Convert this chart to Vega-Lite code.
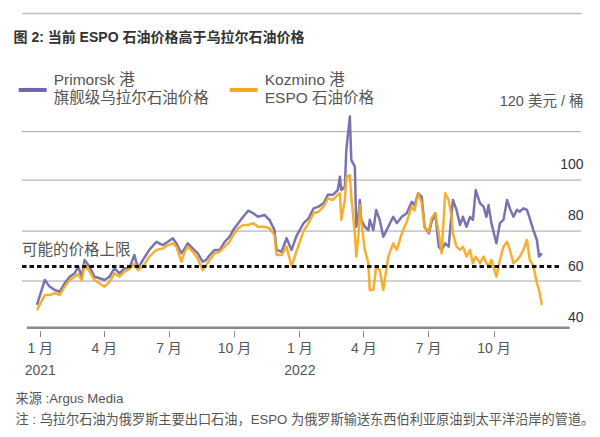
{
  "$schema": "https://vega.github.io/schema/vega-lite/v6.json",
  "width": 559,
  "height": 232,
  "autosize": {"type": "none"},
  "padding": {"left": 22, "top": 95.7, "right": 19, "bottom": 109.3},
  "resolve": {"axis": {"x": "independent"}},
  "layer": [
    {
      "data": {"values": [{"g": 54.3}, {"g": 73.9}, {"g": 93.9}, {"g": 112.9}]},
      "mark": {"type": "rule", "color": "#a3a3a3", "strokeWidth": 1},
      "encoding": {
        "y": {"field": "g", "type": "quantitative", "scale": {"domain": [36, 127], "nice": false, "zero": false},
          "axis": {
            "orient": "right", "values": [40, 60, 80, 100], "domain": false, "ticks": false, "tickSize": 0, "grid": false,
            "labelAlign": "right", "labelBaseline": "middle", "labelPadding": 2, "labelFontSize": 14, "labelColor": "#333333",
            "title": "120 美元 / 桶", "titleAngle": 0, "titleAlign": "right", "titleBaseline": "middle", "titleX": 2, "titleY": 6,
            "titleFontSize": 14.5, "titleFontWeight": "normal", "titleColor": "#555555"
          }}
      }
    },
    {
      "data": {"values": [{}]},
      "mark": {"type": "rule", "color": "#8a8a8a", "strokeWidth": 2.5},
      "encoding": {
        "x": {"datum": {"year": 2020, "month": 12, "date": 14, "utc": true}, "type": "temporal", "scale": {"type": "utc"},
          "axis": {"orient": "top", "offset": 82.7, "domain": true, "domainColor": "#bdbdbd", "domainWidth": 1.5, "ticks": false, "labels": false, "grid": false,
            "title": "图 2: 当前 ESPO 石油价格高于乌拉尔石油价格",
            "titleAngle": 0, "titleAnchor": "start", "titleAlign": "left", "titleBaseline": "middle", "titleX": -9, "titleY": 24,
            "titleFontSize": 14, "titleFontWeight": "bold", "titleColor": "#333333"}},
        "x2": {"datum": {"year": 2023, "month": 1, "date": 16, "utc": true}},
        "y": {"datum": 36, "type": "quantitative",
          "axis": {
            "orient": "right", "values": [40, 60, 80, 100], "domain": false, "ticks": false, "tickSize": 0, "grid": false,
            "labelAlign": "right", "labelBaseline": "middle", "labelPadding": 2, "labelFontSize": 14, "labelColor": "#333333",
            "title": "120 美元 / 桶", "titleAngle": 0, "titleAlign": "right", "titleBaseline": "middle", "titleX": 2, "titleY": 6,
            "titleFontSize": 14.5, "titleFontWeight": "normal", "titleColor": "#555555"
          }}
      }
    },
    {
      "data": {"values": [
        {"d":"2020-12-28","p":45.0,"k":42.9},{"d":"2021-01-08","p":54.7,"k":48.8},{"d":"2021-01-15","p":52.1,"k":48.8},{"d":"2021-01-22","p":50.8,"k":49.5},{"d":"2021-01-29","p":50.1,"k":48.8},
        {"d":"2021-02-05","p":53.4,"k":52.1},{"d":"2021-02-12","p":56.0,"k":54.7},{"d":"2021-02-19","p":57.3,"k":56.0},{"d":"2021-02-24","p":59.9,"k":57.0},{"d":"2021-03-01","p":56.0,"k":54.7},
        {"d":"2021-03-05","p":62.6,"k":60.6},{"d":"2021-03-12","p":59.9,"k":58.0},{"d":"2021-03-19","p":56.0,"k":54.7},{"d":"2021-03-26","p":55.4,"k":53.4},{"d":"2021-04-02","p":54.7,"k":52.1},
        {"d":"2021-04-09","p":56.0,"k":54.0},{"d":"2021-04-16","p":59.3,"k":57.3},{"d":"2021-04-23","p":57.3,"k":56.0},{"d":"2021-04-30","p":59.3,"k":58.0},{"d":"2021-05-07","p":59.3,"k":59.0},
        {"d":"2021-05-14","p":64.5,"k":61.0},{"d":"2021-05-19","p":59.3,"k":58.6},{"d":"2021-05-26","p":62.6,"k":59.9},{"d":"2021-06-04","p":66.5,"k":63.9},{"d":"2021-06-14","p":69.7,"k":66.5},
        {"d":"2021-06-23","p":68.4,"k":67.1},{"d":"2021-06-30","p":69.7,"k":68.4},{"d":"2021-07-07","p":71.1,"k":69.1},{"d":"2021-07-12","p":69.1,"k":67.8},{"d":"2021-07-19","p":65.2,"k":61.9},
        {"d":"2021-07-24","p":67.1,"k":65.8},{"d":"2021-07-28","p":69.1,"k":67.8},{"d":"2021-08-04","p":67.1,"k":65.8},{"d":"2021-08-11","p":65.2,"k":63.2},{"d":"2021-08-18","p":61.9,"k":58.6},
        {"d":"2021-08-23","p":62.6,"k":60.6},{"d":"2021-08-28","p":64.5,"k":62.6},{"d":"2021-09-04","p":66.5,"k":65.2},{"d":"2021-09-11","p":66.5,"k":65.8},{"d":"2021-09-18","p":69.7,"k":67.8},
        {"d":"2021-09-25","p":71.7,"k":69.7},{"d":"2021-09-30","p":74.3,"k":72.4},{"d":"2021-10-07","p":77.0,"k":75.0},{"d":"2021-10-14","p":79.5,"k":76.3},{"d":"2021-10-21","p":81.9,"k":76.3},
        {"d":"2021-10-28","p":80.9,"k":77.0},{"d":"2021-11-04","p":79.5,"k":75.6},{"d":"2021-11-13","p":80.2,"k":75.6},{"d":"2021-11-20","p":78.3,"k":75.0},{"d":"2021-11-27","p":74.3,"k":72.4},
        {"d":"2021-11-30","p":66.5,"k":64.5},{"d":"2021-12-07","p":65.8,"k":64.5},{"d":"2021-12-14","p":71.1,"k":67.8},{"d":"2021-12-21","p":66.5,"k":60.0},{"d":"2021-12-28","p":72.0,"k":66.0},
        {"d":"2022-01-07","p":77.0,"k":74.0},{"d":"2022-01-14","p":78.9,"k":77.0},{"d":"2022-01-21","p":82.8,"k":80.9},{"d":"2022-01-28","p":83.5,"k":81.5},{"d":"2022-02-04","p":84.8,"k":83.5},
        {"d":"2022-02-10","p":88.1,"k":86.8},{"d":"2022-02-17","p":88.1,"k":86.1},{"d":"2022-02-24","p":90.0,"k":88.1},{"d":"2022-02-27","p":95.2,"k":88.7},{"d":"2022-03-01","p":90.0,"k":78.3},
        {"d":"2022-03-06","p":91.3,"k":86.1},{"d":"2022-03-08","p":105.7,"k":95.2},{"d":"2022-03-13","p":118.8,"k":95.8},{"d":"2022-03-15","p":101.8,"k":87.4},{"d":"2022-03-20","p":99.2,"k":73.0},
        {"d":"2022-03-22","p":75.6,"k":63.9},{"d":"2022-03-25","p":79.5,"k":72.0},{"d":"2022-03-27","p":86.1,"k":84.0},{"d":"2022-03-29","p":78.3,"k":78.0},{"d":"2022-04-03","p":75.6,"k":66.5},
        {"d":"2022-04-08","p":74.3,"k":61.3},{"d":"2022-04-10","p":78.3,"k":50.8},{"d":"2022-04-15","p":74.3,"k":50.8},{"d":"2022-04-19","p":82.2,"k":59.9},{"d":"2022-04-24","p":78.3,"k":58.6},
        {"d":"2022-04-29","p":71.7,"k":50.8},{"d":"2022-05-06","p":75.6,"k":63.9},{"d":"2022-05-13","p":79.5,"k":69.1},{"d":"2022-05-18","p":77.0,"k":66.5},{"d":"2022-05-25","p":79.5,"k":73.0},
        {"d":"2022-06-01","p":80.9,"k":77.6},{"d":"2022-06-08","p":85.4,"k":83.5},{"d":"2022-06-12","p":84.1,"k":82.0},{"d":"2022-06-17","p":88.7,"k":88.7},{"d":"2022-06-22","p":87.4,"k":85.0},
        {"d":"2022-06-26","p":75.6,"k":75.6},{"d":"2022-07-02","p":73.0,"k":73.5},{"d":"2022-07-06","p":77.6,"k":79.0},{"d":"2022-07-11","p":80.9,"k":80.9},{"d":"2022-07-16","p":67.8,"k":73.0},
        {"d":"2022-07-20","p":66.5,"k":65.2},{"d":"2022-07-25","p":69.1,"k":88.7},{"d":"2022-07-30","p":67.8,"k":86.1},{"d":"2022-08-03","p":80.9,"k":79.5},{"d":"2022-08-05","p":86.1,"k":73.0},
        {"d":"2022-08-10","p":82.2,"k":67.8},{"d":"2022-08-15","p":76.3,"k":66.5},{"d":"2022-08-19","p":79.5,"k":67.8},{"d":"2022-08-24","p":75.6,"k":63.9},{"d":"2022-08-29","p":79.5,"k":66.5},
        {"d":"2022-09-02","p":78.3,"k":61.3},{"d":"2022-09-06","p":90.0,"k":63.9},{"d":"2022-09-12","p":84.8,"k":61.3},{"d":"2022-09-17","p":83.5,"k":63.9},{"d":"2022-09-21","p":79.5,"k":61.3},
        {"d":"2022-09-24","p":84.1,"k":59.9},{"d":"2022-09-28","p":77.0,"k":62.6},{"d":"2022-10-05","p":69.1,"k":56.0},{"d":"2022-10-10","p":77.0,"k":62.6},{"d":"2022-10-15","p":78.3,"k":67.8},
        {"d":"2022-10-20","p":86.1,"k":69.7},{"d":"2022-10-24","p":82.8,"k":66.5},{"d":"2022-10-29","p":79.5,"k":61.3},{"d":"2022-11-03","p":82.2,"k":62.6},{"d":"2022-11-07","p":81.5,"k":63.9},
        {"d":"2022-11-12","p":82.8,"k":66.5},{"d":"2022-11-17","p":82.2,"k":70.4},{"d":"2022-11-21","p":78.9,"k":62.6},{"d":"2022-11-26","p":74.3,"k":60.3},{"d":"2022-12-01","p":70.4,"k":53.4},
        {"d":"2022-12-04","p":63.9,"k":50.8},{"d":"2022-12-08","p":65.2,"k":44.9}
      ]},
      "transform": [{"fold": ["p", "k"], "as": ["s", "v"]}],
      "mark": {"type": "line", "strokeWidth": 2.5, "opacity": 0.92, "strokeJoin": "round"},
      "encoding": {
        "x": {
          "field": "d", "type": "temporal",
          "scale": {"type": "utc", "domain": [{"year": 2020, "month": 12, "date": 7, "utc": true}, {"year": 2023, "month": 2, "date": 1, "utc": true}], "nice": false},
          "axis": {
            "orient": "bottom", "offset": 3, "domain": false, "grid": false,
            "tickSize": 6, "tickColor": "#8a8a8a", "tickWidth": 1,
            "values": [
              {"year": 2021, "month": 1, "date": 1, "utc": true}, {"year": 2021, "month": 4, "date": 1, "utc": true},
              {"year": 2021, "month": 7, "date": 1, "utc": true}, {"year": 2021, "month": 10, "date": 1, "utc": true},
              {"year": 2022, "month": 1, "date": 1, "utc": true}, {"year": 2022, "month": 4, "date": 1, "utc": true},
              {"year": 2022, "month": 7, "date": 1, "utc": true}, {"year": 2022, "month": 10, "date": 1, "utc": true}
            ],
            "labelExpr": "utcmonth(datum.value) == 0 ? [(utcmonth(datum.value) + 1) + ' 月', '' + utcyear(datum.value)] : (utcmonth(datum.value) + 1) + ' 月'",
            "labelFontSize": 14, "labelColor": "#555555", "labelPadding": 5, "labelLineHeight": 22, "labelBaseline": "top", "labelAlign": "center",
            "title": ["来源 :Argus Media", "注 : 乌拉尔石油为俄罗斯主要出口石油，ESPO 为俄罗斯输送东西伯利亚原油到太平洋沿岸的管道。"],
            "titleAnchor": "start", "titleAlign": "left", "titleBaseline": "top", "titleX": -7, "titleY": 62,
            "titleFontSize": 13.2, "titleFontWeight": "normal", "titleColor": "#555555", "titleLineHeight": 21
          }
        },
        "y": {
          "field": "v", "type": "quantitative",
          "scale": {"domain": [36, 127], "nice": false, "zero": false},
          "axis": {
            "orient": "right", "values": [40, 60, 80, 100], "domain": false, "ticks": false, "tickSize": 0, "grid": false,
            "labelAlign": "right", "labelBaseline": "middle", "labelPadding": 2, "labelFontSize": 14, "labelColor": "#333333",
            "title": "120 美元 / 桶", "titleAngle": 0, "titleAlign": "right", "titleBaseline": "middle", "titleX": 2, "titleY": 6,
            "titleFontSize": 14.5, "titleFontWeight": "normal", "titleColor": "#555555"
          }
        },
        "color": {
          "field": "s", "type": "nominal",
          "scale": {"domain": ["p", "k"], "range": ["#6c68a8", "#f5a81f"]},
          "legend": {
            "orient": "none", "legendX": -5.3, "legendY": -22, "direction": "horizontal", "title": null,
            "symbolType": "stroke", "symbolSize": 784, "symbolStrokeWidth": 4, "symbolOpacity": 1,
            "labelFontSize": 15.5, "labelColor": "#555555", "labelOffset": 5, "columnPadding": 12, "labelLimit": 300,
            "labelBaseline": "line-bottom",
            "labelExpr": "datum.value == 'p' ? ['Primorsk 港', '旗舰级乌拉尔石油价格'] : ['Kozmino 港', 'ESPO 石油价格']"
          }
        }
      }
    },
    {
      "data": {"values": [{}]},
      "mark": {"type": "rule", "color": "#111111", "strokeWidth": 3, "strokeDash": [4.5, 3]},
      "encoding": {
        "x": {"datum": {"year": 2020, "month": 12, "date": 7, "utc": true}, "type": "temporal", "scale": {"type": "utc"}, "axis": null},
        "x2": {"datum": {"year": 2023, "month": 1, "date": 2, "utc": true}},
        "y": {"datum": 60, "type": "quantitative",
          "axis": {
            "orient": "right", "values": [40, 60, 80, 100], "domain": false, "ticks": false, "tickSize": 0, "grid": false,
            "labelAlign": "right", "labelBaseline": "middle", "labelPadding": 2, "labelFontSize": 14, "labelColor": "#333333",
            "title": "120 美元 / 桶", "titleAngle": 0, "titleAlign": "right", "titleBaseline": "middle", "titleX": 2, "titleY": 6,
            "titleFontSize": 14.5, "titleFontWeight": "normal", "titleColor": "#555555"
          }}
      }
    },
    {
      "data": {"values": [{}]},
      "mark": {"type": "text", "text": "可能的价格上限", "align": "left", "baseline": "middle", "fontSize": 15.5, "color": "#555555"},
      "encoding": {
        "x": {"datum": {"year": 2020, "month": 12, "date": 7, "utc": true}, "type": "temporal", "scale": {"type": "utc"}, "axis": null},
        "y": {"datum": 66.5, "type": "quantitative",
          "axis": {
            "orient": "right", "values": [40, 60, 80, 100], "domain": false, "ticks": false, "tickSize": 0, "grid": false,
            "labelAlign": "right", "labelBaseline": "middle", "labelPadding": 2, "labelFontSize": 14, "labelColor": "#333333",
            "title": "120 美元 / 桶", "titleAngle": 0, "titleAlign": "right", "titleBaseline": "middle", "titleX": 2, "titleY": 6,
            "titleFontSize": 14.5, "titleFontWeight": "normal", "titleColor": "#555555"
          }}
      }
    }
  ],
  "config": {
    "font": "Liberation Sans, Noto Sans CJK SC, sans-serif",
    "view": {"stroke": null},
    "style": {"guide-label": {"lineHeight": 18}}
  }
}
